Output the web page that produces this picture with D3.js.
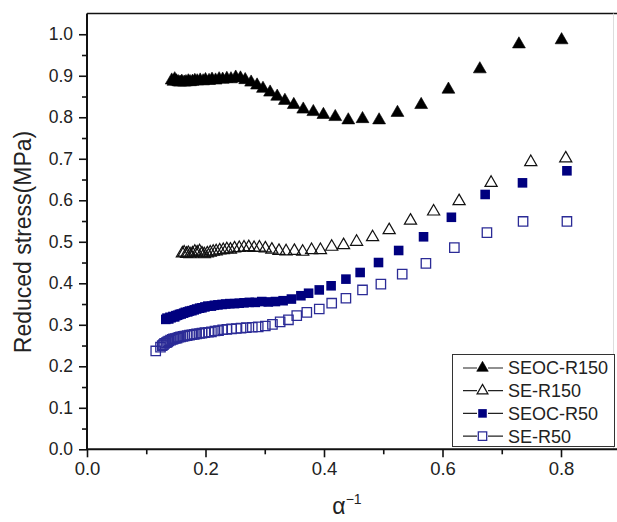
<!DOCTYPE html>
<html>
<head>
<meta charset="utf-8">
<script src="https://cdn.jsdelivr.net/npm/d3@7"></script>
<style>
  html, body { margin: 0; padding: 0; background: #fff; }
  svg { display: block; }
  text { font-family: Arial, "Liberation Sans", sans-serif; fill: #222; }
</style>
</head>
<body>
<svg id="chart" width="617" height="522"></svg>
<script>
// ---------------- data ----------------
const seriesNames = ["SEOC-R150", "SE-R150", "SEOC-R50", "SE-R50"];

const seocR150X = [0.143,0.146,0.148,0.151,0.154,0.157,0.160,0.164,0.167,0.171,0.174,0.178,0.182,0.186,0.191,0.196,0.200,0.206,0.211,0.217,0.223,0.229,0.236,0.243,0.251,0.259,0.267,0.277,0.287,0.297,0.309,0.321,0.334,0.349,0.365,0.382,0.399,0.419,0.441,0.465,0.493,0.524,0.564,0.610,0.663,0.729,0.801];
const seocR150Y = [0.889,0.886,0.892,0.887,0.885,0.884,0.886,0.884,0.885,0.887,0.885,0.886,0.888,0.887,0.889,0.887,0.890,0.888,0.891,0.889,0.892,0.891,0.893,0.892,0.896,0.894,0.890,0.884,0.877,0.869,0.860,0.850,0.840,0.830,0.819,0.813,0.806,0.801,0.793,0.796,0.793,0.811,0.830,0.867,0.916,0.976,0.986];

const seR150X = [0.161,0.164,0.168,0.171,0.174,0.178,0.182,0.186,0.190,0.194,0.198,0.203,0.208,0.213,0.218,0.224,0.230,0.236,0.242,0.249,0.257,0.265,0.273,0.282,0.291,0.301,0.312,0.324,0.336,0.350,0.364,0.379,0.394,0.413,0.433,0.455,0.482,0.510,0.546,0.585,0.628,0.682,0.749,0.808];
const seR150Y = [0.472,0.474,0.471,0.473,0.470,0.472,0.476,0.474,0.477,0.472,0.470,0.472,0.474,0.476,0.477,0.479,0.480,0.482,0.481,0.484,0.485,0.486,0.487,0.485,0.486,0.484,0.481,0.478,0.477,0.478,0.476,0.480,0.480,0.488,0.492,0.500,0.511,0.528,0.551,0.573,0.598,0.642,0.692,0.701];

const seocR50X = [0.133,0.135,0.138,0.140,0.142,0.145,0.148,0.150,0.153,0.156,0.159,0.163,0.166,0.170,0.173,0.177,0.181,0.185,0.190,0.194,0.199,0.204,0.210,0.215,0.221,0.228,0.234,0.241,0.249,0.257,0.265,0.274,0.284,0.295,0.306,0.318,0.331,0.345,0.361,0.374,0.392,0.412,0.437,0.461,0.492,0.526,0.568,0.615,0.672,0.735,0.810];
const seocR50Y = [0.313,0.316,0.314,0.318,0.317,0.320,0.319,0.322,0.323,0.325,0.326,0.328,0.330,0.331,0.333,0.334,0.336,0.338,0.340,0.341,0.343,0.345,0.345,0.347,0.348,0.349,0.350,0.351,0.351,0.352,0.353,0.354,0.354,0.356,0.355,0.356,0.358,0.362,0.370,0.376,0.384,0.394,0.410,0.426,0.450,0.479,0.512,0.559,0.614,0.642,0.671];

const seR50X = [0.116,0.124,0.127,0.129,0.131,0.134,0.136,0.138,0.141,0.144,0.146,0.149,0.152,0.155,0.158,0.162,0.165,0.169,0.173,0.177,0.181,0.185,0.190,0.194,0.199,0.205,0.210,0.216,0.222,0.229,0.236,0.244,0.252,0.260,0.269,0.279,0.289,0.301,0.313,0.326,0.340,0.354,0.371,0.392,0.413,0.437,0.465,0.496,0.532,0.572,0.620,0.675,0.736,0.810];
const seR50Y = [0.237,0.246,0.250,0.252,0.255,0.257,0.259,0.261,0.263,0.265,0.266,0.267,0.268,0.270,0.271,0.272,0.273,0.274,0.275,0.276,0.277,0.278,0.279,0.280,0.281,0.282,0.283,0.285,0.286,0.288,0.289,0.290,0.291,0.292,0.293,0.294,0.295,0.297,0.301,0.307,0.312,0.322,0.330,0.338,0.352,0.364,0.384,0.398,0.422,0.448,0.486,0.522,0.549,0.549];

const xMajorTicks = [0.0, 0.2, 0.4, 0.6, 0.8];
const xMinorTicks = [0.1, 0.3, 0.5, 0.7];
const yMajorTicks = [0.0, 0.1, 0.2, 0.3, 0.4, 0.5, 0.6, 0.7, 0.8, 0.9, 1.0];
const yMinorTicks = [0.05, 0.15, 0.25, 0.35, 0.45, 0.55, 0.65, 0.75, 0.85, 0.95];

// ---------------- chart ----------------
const svg = d3.select("#chart");
const x = d3.scaleLinear().domain([0, 0.9]).range([87, 620.25]);
const y = d3.scaleLinear().domain([0, 1.05]).range([449.3, 13.5]);

const styles = [
  {name: seriesNames[0], xs: seocR150X, ys: seocR150Y, type: d3.symbolTriangle, size: 72, fill: "#000", stroke: "#000", sw: 0.6},
  {name: seriesNames[1], xs: seR150X, ys: seR150Y, type: d3.symbolTriangle, size: 64, fill: "none", stroke: "#111", sw: 1.2},
  {name: seriesNames[2], xs: seocR50X, ys: seocR50Y, type: d3.symbolSquare, size: 92, fill: "#00007f", stroke: "none", sw: 0},
  {name: seriesNames[3], xs: seR50X, ys: seR50Y, type: d3.symbolSquare, size: 88, fill: "none", stroke: "#2b2b96", sw: 1.3}
];

// frame (top + faint right)
svg.append("line").attr("x1", x(0)).attr("x2", 617).attr("y1", y(1.05)).attr("y2", y(1.05))
   .attr("stroke", "#111").attr("stroke-width", 1.6);
svg.append("line").attr("x1", 613.5).attr("x2", 613.5).attr("y1", y(1.05)).attr("y2", y(0))
   .attr("stroke", "#ddd").attr("stroke-width", 1);

// data
styles.forEach(s => {
  const pts = s.xs.map((v, i) => [v, s.ys[i]]);
  svg.append("g").selectAll("path").data(pts).join("path")
    .attr("transform", d => `translate(${x(d[0])},${y(d[1])})`)
    .attr("d", d3.symbol().type(s.type).size(s.size)())
    .attr("fill", s.fill).attr("stroke", s.stroke).attr("stroke-width", s.sw);
});

// axes
const xAxis = svg.append("g").attr("transform", `translate(0,${y(0)})`)
  .call(d3.axisBottom(x).tickValues(xMajorTicks).tickSize(8).tickPadding(5).tickFormat(d3.format(".1f")));
svg.append("g").attr("transform", `translate(0,${y(0)})`)
  .call(d3.axisBottom(x).tickValues(xMinorTicks).tickSize(5).tickFormat(""))
  .call(g => g.select(".domain").remove());
const yAxis = svg.append("g").attr("transform", `translate(${x(0)},0)`)
  .call(d3.axisLeft(y).tickValues(yMajorTicks).tickSize(8).tickPadding(6).tickFormat(d3.format(".1f")));
svg.append("g").attr("transform", `translate(${x(0)},0)`)
  .call(d3.axisLeft(y).tickValues(yMinorTicks).tickSize(5).tickFormat(""))
  .call(g => g.select(".domain").remove());

svg.selectAll(".domain").attr("stroke", "#111").attr("stroke-width", 2);
svg.selectAll(".tick line").attr("stroke", "#111").attr("stroke-width", 1.6);
xAxis.select(".domain").attr("d", `M${x(0)},0H617`);
yAxis.select(".domain").attr("d", `M0,${y(0)}V${y(1.05)}`);
xAxis.selectAll(".tick text").attr("font-size", 18.5).attr("font-family", "Arial, 'Liberation Sans', sans-serif").attr("fill", "#222");
yAxis.selectAll(".tick text").attr("font-size", 17.5).attr("font-family", "Arial, 'Liberation Sans', sans-serif").attr("fill", "#222");

// axis titles
svg.append("text").attr("transform", "translate(31,242) rotate(-90)")
  .attr("text-anchor", "middle").attr("font-size", 23).text("Reduced stress(MPa)");
const xt = svg.append("text").attr("x", 347).attr("y", 514).attr("text-anchor", "middle")
  .attr("font-family", "'Liberation Serif', 'DejaVu Serif', serif").attr("font-size", 23);
xt.append("tspan").text("α");
xt.append("tspan").attr("dy", -10).attr("font-size", 14).attr("font-family", "Arial, 'Liberation Sans', sans-serif").text("−1");

// legend
const lg = svg.append("g");
lg.append("rect").attr("x", 452.5).attr("y", 354.5).attr("width", 162).attr("height", 92)
  .attr("fill", "#fff").attr("stroke", "#333").attr("stroke-width", 1);
styles.forEach((s, i) => {
  const cy = 368 + i * 22.7;
  lg.append("line").attr("x1", 463).attr("x2", 503).attr("y1", cy).attr("y2", cy)
    .attr("stroke", "#222").attr("stroke-width", 1.2);
  lg.append("rect").attr("x", 477).attr("y", cy - 5.5).attr("width", 11).attr("height", 11).attr("fill", "#fff");
  lg.append("path").attr("transform", `translate(482.5,${cy})`)
    .attr("d", d3.symbol().type(s.type).size(s.size * 0.8)())
    .attr("fill", s.fill === "none" ? "#fff" : s.fill).attr("stroke", s.stroke).attr("stroke-width", s.sw);
  lg.append("text").attr("x", 508).attr("y", cy).attr("dy", "0.36em")
    .attr("font-size", 18).text(s.name);
});
</script>
</body>
</html>
